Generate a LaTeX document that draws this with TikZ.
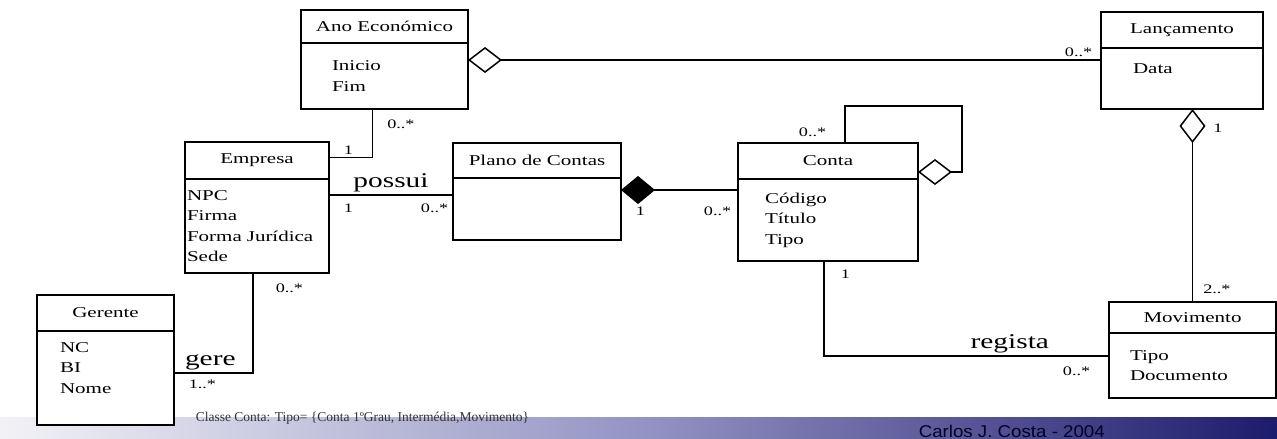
\documentclass[tikz,border=0pt]{standalone}
\usepackage{fontspec}
\setmainfont[FakeStretch=1.4]{Liberation Serif}
\newfontfamily\plainserif{Liberation Serif}
\setsansfont[FakeStretch=1.1]{Liberation Sans}
\usetikzlibrary{positioning,arrows.meta}
\definecolor{bandlight}{HTML}{F2F2F6}
\definecolor{bandmid}{HTML}{9494C4}
\definecolor{banddark}{HTML}{1C1C6C}
\definecolor{captiongray}{HTML}{333333}

\begin{document}
\begin{tikzpicture}[x=1pt,y=-1pt,line width=1.5pt,
                    aggr/.style={-{Diamond[open,length=34pt,width=26pt]}},
                    comp/.style={-{Diamond[length=34pt,width=28pt]}}]
  \tikzstyle{head}=[rectangle,draw=black,fill=white,outer sep=0pt,inner sep=0pt,font=\fontsize{15}{18}\selectfont]
  \tikzstyle{body}=[rectangle,draw=black,fill=white,outer sep=0pt,inner ysep=0pt,align=left,font=\fontsize{15}{20.5}\selectfont]
  \tikzstyle{mult}=[font=\fontsize{13}{15}\selectfont,inner sep=2pt]
  \tikzstyle{role}=[font=\fontsize{21}{24}\selectfont,inner sep=2pt]

  \useasboundingbox (0,0) rectangle (1277,439);

  % footer band
  \shade[left color=bandlight,right color=bandmid] (0,416) rectangle (640,439);
  \shade[left color=bandmid,right color=banddark] (640,416) rectangle (1277,439);
  \draw[white,line width=1pt] (0,416.5) -- (1277,416.5);

  % classes
  \node[head,minimum width=167pt,minimum height=33pt] (anohead) at (384.5,26.5) {Ano Económico};
  \node[body,minimum width=167pt,minimum height=66pt,text width=105pt,inner xsep=31pt,below=0pt of anohead] (anobody) {Inicio\\Fim};

  \node[head,minimum width=162pt,minimum height=36pt] (lanhead) at (1182,30) {Lançamento};
  \node[body,minimum width=162pt,minimum height=61pt,text width=98pt,inner xsep=32pt,below=0pt of lanhead] (lanbody) {Data\\\mbox{}};

  \node[head,minimum width=144pt,minimum height=37pt] (emphead) at (257,160.5) {Empresa};
  \node[body,minimum width=144pt,minimum height=94pt,text width=140pt,inner xsep=2pt,below=0pt of emphead] (empbody) {NPC\\Firma\\Forma Jurídica\\Sede};

  \node[head,minimum width=168pt,minimum height=35pt] (planohead) at (537,160.5) {Plano de Contas};
  \node[body,minimum width=168pt,minimum height=62pt,below=0pt of planohead] (planobody) {};

  \node[head,minimum width=180pt,minimum height=36pt] (contahead) at (828,161) {Conta};
  \node[body,minimum width=180pt,minimum height=82pt,text width=126pt,inner xsep=27pt,below=0pt of contahead] (contabody) {Código\\Título\\Tipo};

  \node[head,minimum width=137pt,minimum height=36pt] (gerhead) at (105.5,313) {Gerente};
  \node[body,minimum width=137pt,minimum height=94pt,text width=91pt,inner xsep=23pt,below=0pt of gerhead] (gerbody) {NC\\BI\\Nome\\\mbox{}};

  \node[head,minimum width=167pt,minimum height=31pt] (movhead) at (1192.5,317.5) {Movimento};
  \node[body,minimum width=167pt,minimum height=65pt,text width=125pt,inner xsep=21pt,below=0pt of movhead] (movbody) {Tipo\\Documento};

  % connector ends
  \coordinate (anoagg) at ([yshift=-17pt]anobody.north east);
  \coordinate (contaagg) at ([yshift=7pt]contabody.north east);
  \coordinate (planocomp) at ([yshift=-12pt]planobody.north east);
  \coordinate (emppossui) at ([yshift=-16pt]empbody.north east);
  \coordinate (gergere) at ([yshift=-42pt]gerbody.north east);
  \coordinate (movreg) at ([yshift=-23pt]movbody.north west);

  % associations
  \draw[aggr] (anoagg -| lanbody.west) -- node[mult,pos=0,above left=1pt and 6pt]{0..*} (anoagg);
  \draw[aggr] (movhead.north) -- node[mult,pos=0,above right=6pt and 8pt]{2..*}
                                 node[mult,pos=0.9,right=18pt]{1} (movhead.north |- lanbody.south);
  \draw[aggr] ([xshift=17pt]contahead.north) -- node[mult,pos=0,above left=4pt and 16pt]{0..*}
              ++(0,-37) -| ([xshift=44pt]contaagg) -- (contaagg);
  \draw[comp] (planocomp -| contabody.west) -- node[mult,pos=0,below left=14pt and 4pt]{0..*}
                                               node[mult,pos=1,below right=14pt and 12pt]{1} (planocomp);
  \draw ([yshift=3pt]emphead.east) -| node[mult,pos=0,above right=0pt and 12pt]{1}
                                      node[mult,pos=1,below right=8pt and 12pt]{0..*} ([xshift=-12pt]anobody.south);
  \draw (emppossui) -- node[role,above]{possui}
                       node[mult,pos=0,below right=6pt and 12pt]{1}
                       node[mult,pos=1,below left=6pt and 2pt]{0..*} (emppossui -| planobody.west);
  \draw (gergere) -| node[role,pos=0.23,above]{gere}
                     node[mult,pos=0,below right=4pt and 12pt]{1..*}
                     node[mult,pos=1,below right=8pt and 20pt]{0..*} ([xshift=-4pt]empbody.south);
  \draw ([xshift=-4pt]contabody.south) |- node[mult,pos=0,below right=6pt and 14pt]{1}
                                          node[role,pos=0.826,above]{regista}
                                          node[mult,pos=1,below left=8pt and 16pt]{0..*} (movreg);

  % notes
  \node[anchor=west,text=captiongray,font=\fontsize{13.5}{15}\plainserif,inner sep=0pt] (caption) at (195,418)
       {Classe Conta: Tipo= \{Conta 1ºGrau, Intermédia,Movimento\}};
  \node[anchor=north west,text=black!85!blue,font=\fontsize{17}{20}\sffamily,inner sep=0pt] (author) at (918,424)
       {Carlos J. Costa - 2004};
\end{tikzpicture}
\end{document}
